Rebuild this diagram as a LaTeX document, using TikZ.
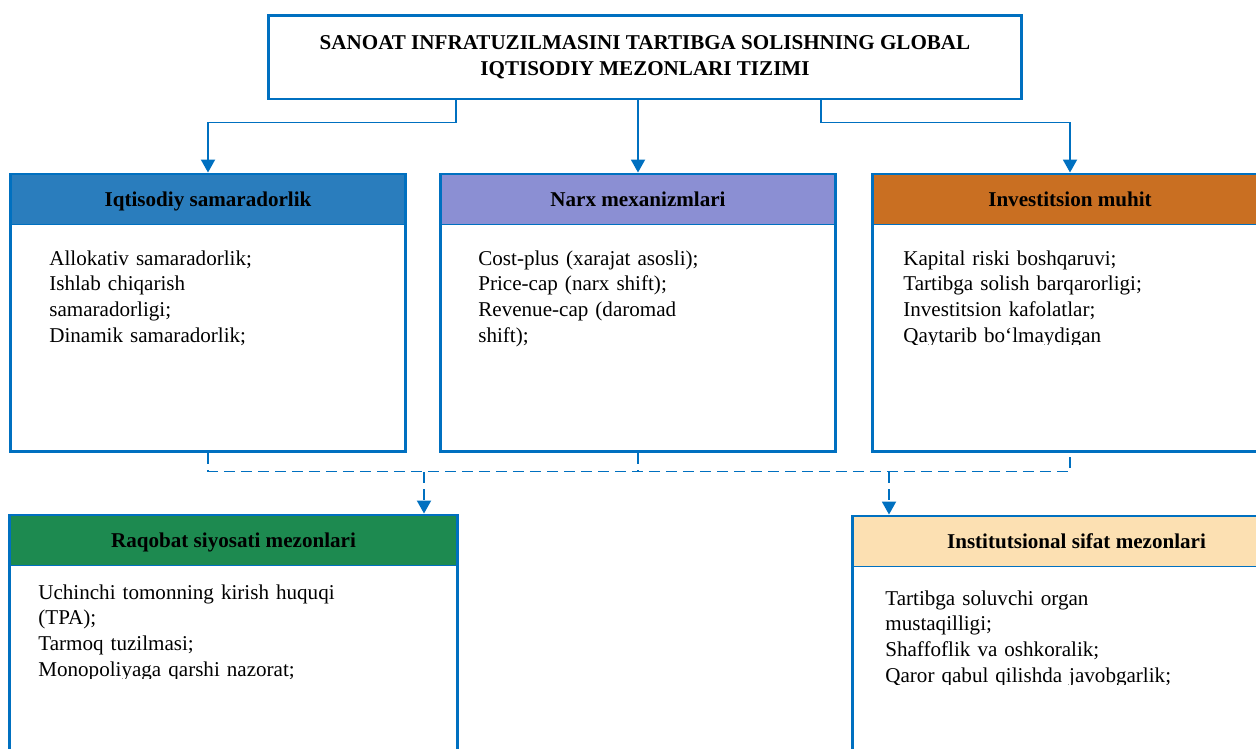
\documentclass[tikz,border=0pt]{standalone}
\usepackage{fontspec}
\setmainfont{Liberation Serif}
\usetikzlibrary{arrows.meta,positioning}
\definecolor{frameblue}{HTML}{0070C0}
\definecolor{headblue}{HTML}{2A7DBD}
\definecolor{headlilac}{HTML}{8B8FD3}
\definecolor{headorange}{HTML}{C96F22}
\definecolor{headgreen}{HTML}{1D8A50}
\definecolor{headpeach}{HTML}{FCE0B2}
\tikzset{
  boxframe/.style={draw=frameblue, line width=1.7pt, fill=white, inner sep=0pt,
    minimum width=7.92cm, minimum height=5.56cm},
  hdband/.style={fill=#1, draw=frameblue, line width=0.6pt, anchor=north, inner sep=0pt,
    text height=9.4pt, text depth=1.6pt,
    minimum width=7.86cm, minimum height=1.0cm, font=\bfseries\fontsize{12}{14.7}\selectfont},
  bodytext/.style={anchor=base west, text width=8cm, align=left, inner sep=0pt,
    font=\fontsize{12}{14.7}\selectfont},
  arrowlink/.style={draw=frameblue, line width=1.1pt, -{Triangle[length=0.26cm,width=0.28cm]}},
  dashlink/.style={draw=frameblue, line width=1.1pt, dash pattern=on 0.22cm off 0.12cm},
}
\begin{document}
\begin{tikzpicture}[x=0.02cm, y=-0.02cm]
  \useasboundingbox (0,0) rectangle (1256,748);
  \clip (0,0) rectangle (1256,748);

  % Draw the title
  \node[draw=frameblue, line width=1.7pt, minimum width=15.08cm, minimum height=1.68cm,
    align=center, font=\bfseries\fontsize{12}{14.7}\selectfont] (title) at (645,57)
    {SANOAT INFRATUZILMASINI TARTIBGA SOLISHNING GLOBAL\\IQTISODIY MEZONLARI TIZIMI};

  % Upper row of criteria
  \node[boxframe] (effic) at (208,313) {};
  \node[hdband=headblue] (effic-head) at ([yshift=-0.03cm]effic.north) {Iqtisodiy samaradorlik};
  \node[bodytext] (effic-txt) at (49,265)
    {Allokativ samaradorlik;\\Ishlab chiqarish\\samaradorligi;\\Dinamik samaradorlik;};

  \node[boxframe] (price) at (638,313) {};
  \node[hdband=headlilac] (price-head) at ([yshift=-0.03cm]price.north) {Narx mexanizmlari};
  \node[bodytext] (price-txt) at (478,265)
    {Cost-plus (xarajat asosli);\\Price-cap (narx shift);\\Revenue-cap (daromad\\shift);};

  \node[boxframe] (invest) at (1070,313) {};
  \node[hdband=headorange] (invest-head) at ([yshift=-0.03cm]invest.north) {Investitsion muhit};
  \begin{scope}
    \clip (872,226) rectangle (1256,344.5);
    \node[bodytext] (invest-txt) at (903,265)
      {Kapital riski boshqaruvi;\\Tartibga solish barqarorligi;\\Investitsion kafolatlar;\\Qaytarib bo‘lmaydigan};
  \end{scope}

  % Lower row of criteria
  \node[boxframe, minimum width=8.98cm, minimum height=6cm] (compet) at (233.5,665) {};
  \node[hdband=headgreen, minimum width=8.92cm] (compet-head) at ([yshift=-0.03cm]compet.north) {Raqobat siyosati mezonlari};
  \begin{scope}
    \clip (9,566) rectangle (458,678.5);
    \node[bodytext] (compet-txt) at (38,599)
      {Uchinchi tomonning kirish huquqi\\(TPA);\\Tarmoq tuzilmasi;\\Monopoliyaga qarshi nazorat;};
  \end{scope}

  \node[boxframe, minimum width=8.98cm, minimum height=6cm] (instit) at (1076.5,666) {};
  \node[hdband=headpeach, minimum width=8.92cm] (instit-head) at ([yshift=-0.03cm]instit.north) {Institutsional sifat mezonlari};
  \begin{scope}
    \clip (852,567) rectangle (1256,684.5);
    \node[bodytext] (instit-txt) at (885,605)
      {Tartibga soluvchi organ\\mustaqilligi;\\Shaffoflik va oshkoralik;\\Qaror qabul qilishda javobgarlik;};
  \end{scope}

  % Arrows from the title
  \draw[arrowlink] ([xshift=-3.78cm]title.south) -- ++(0,22) -| (effic.north);
  \draw[arrowlink] (title.south -| price.north) -- (price.north);
  \draw[arrowlink] ([xshift=3.52cm]title.south) -- ++(0,22) -| (invest.north);

  % Dashed links to the lower row
  \draw[dashlink] (effic.south) -- ++(0,18) -| (invest.south);
  \draw[dashlink] (price.south) -- ++(0,18);
  \coordinate (split-l) at (424,472);
  \coordinate (split-r) at (889,472);
  \draw[dashlink, -{Triangle[length=0.26cm,width=0.28cm]}] (split-l) -- (split-l |- compet.north);
  \draw[dashlink, -{Triangle[length=0.26cm,width=0.28cm]}] (split-r) -- (split-r |- instit.north);
\end{tikzpicture}
\end{document}
